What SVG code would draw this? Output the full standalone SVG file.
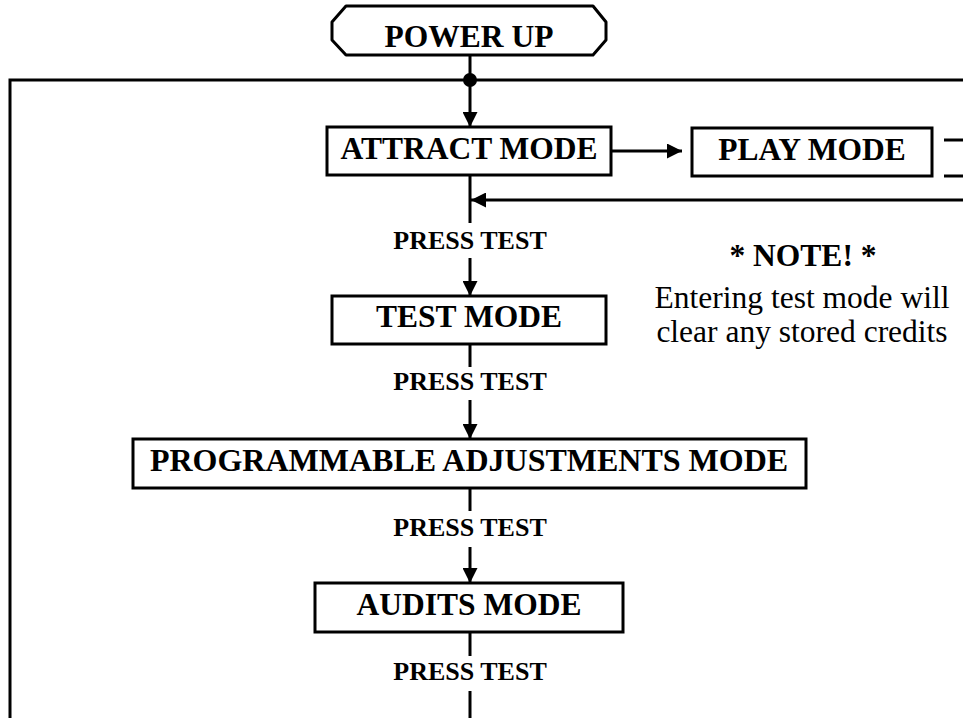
<svg xmlns="http://www.w3.org/2000/svg" width="963" height="718" viewBox="0 0 963 718">
<style>
.box{fill:#fff;stroke:#000;stroke-width:3}
.ln{fill:none;stroke:#000;stroke-width:3}
.t{font-family:"Liberation Serif","Times New Roman",serif;font-weight:bold;font-size:31.5px;text-anchor:middle;fill:#000}
.p{font-family:"Liberation Serif","Times New Roman",serif;font-weight:bold;font-size:26px;text-anchor:middle;fill:#000}
.n{font-family:"Liberation Serif","Times New Roman",serif;font-size:31.5px;text-anchor:middle;fill:#000}
</style>
<defs>
<marker id="ah" viewBox="0 0 15 15" refX="15" refY="7.5" markerWidth="15" markerHeight="15" markerUnits="userSpaceOnUse" orient="auto">
<path d="M0,0 L15,7.5 L0,15 Z" fill="#000"/>
</marker>
</defs>
<rect width="963" height="718" fill="#fff"/>
<g id="connectors">
<path class="ln" d="M10,718 L10,80 L963,80"/>
<circle cx="470" cy="80" r="7" fill="#000"/>
<line class="ln" x1="470" y1="55" x2="470" y2="127" marker-end="url(#ah)"/>
<line class="ln" x1="611" y1="151" x2="682" y2="151" marker-end="url(#ah)"/>
<line class="ln" x1="944" y1="140" x2="963" y2="140"/>
<line class="ln" x1="944" y1="176" x2="963" y2="176"/>
<line class="ln" x1="963" y1="200" x2="471" y2="200" marker-end="url(#ah)"/>
<line class="ln" x1="470" y1="175" x2="470" y2="223"/>
<line class="ln" x1="470" y1="258" x2="470" y2="296" marker-end="url(#ah)"/>
<line class="ln" x1="470" y1="344" x2="470" y2="367"/>
<line class="ln" x1="470" y1="400" x2="470" y2="439" marker-end="url(#ah)"/>
<line class="ln" x1="470" y1="488" x2="470" y2="511"/>
<line class="ln" x1="470" y1="547" x2="470" y2="583" marker-end="url(#ah)"/>
<line class="ln" x1="470" y1="632" x2="470" y2="656"/>
<line class="ln" x1="470" y1="691" x2="470" y2="718"/>
<text class="p" x="470" y="249">PRESS TEST</text>
<text class="p" x="470" y="390">PRESS TEST</text>
<text class="p" x="470" y="536">PRESS TEST</text>
<text class="p" x="470" y="680">PRESS TEST</text>
</g>
<g id="power-up">
<path class="box" stroke-linejoin="round" d="M346,6 L593,6 L606,22 L606,40 L593,55 L346,55 L332,40 L332,22 Z"/>
<text class="t" x="469" y="46.5">POWER UP</text>
</g>
<g id="attract-mode">
<rect class="box" x="327" y="127" width="284" height="48"/>
<text class="t" x="469" y="159">ATTRACT MODE</text>
</g>
<g id="play-mode">
<rect class="box" x="692" y="128" width="240" height="48"/>
<text class="t" x="812" y="160">PLAY MODE</text>
</g>
<g id="note">
<text class="t" x="803" y="266">* NOTE! *</text>
<text class="n" x="802" y="308">Entering test mode will</text>
<text class="n" x="802" y="342">clear any stored credits</text>
</g>
<g id="test-mode">
<rect class="box" x="332" y="296" width="274" height="48"/>
<text class="t" x="469" y="327">TEST MODE</text>
</g>
<g id="programmable-adjustments-mode">
<rect class="box" x="133" y="439" width="673" height="49"/>
<text class="t" x="469" y="471" style="font-size:32px">PROGRAMMABLE ADJUSTMENTS MODE</text>
</g>
<g id="audits-mode">
<rect class="box" x="315" y="583" width="308" height="49"/>
<text class="t" x="469" y="615">AUDITS MODE</text>
</g>
</svg>
